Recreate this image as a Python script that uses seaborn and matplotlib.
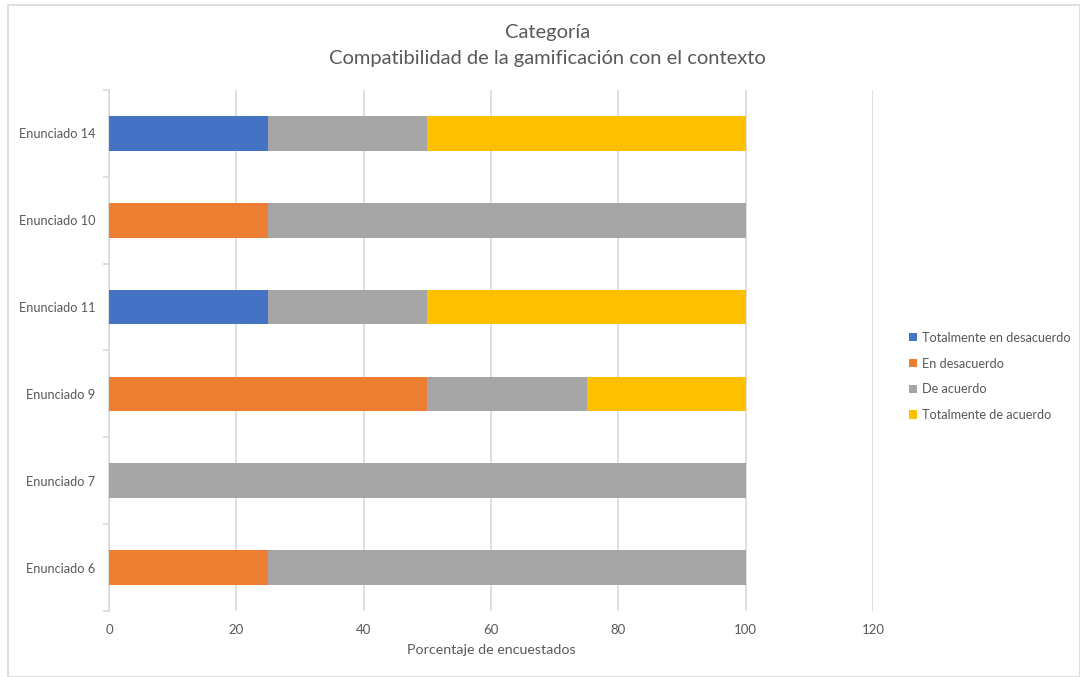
import matplotlib
matplotlib.use("Agg")
import matplotlib.pyplot as plt
import seaborn as sns
import pandas as pd
import numpy as np
from matplotlib.patches import Rectangle

# Statements, listed top to bottom
categories = ["Enunciado 14", "Enunciado 10", "Enunciado 11", "Enunciado 9", "Enunciado 7", "Enunciado 6"]

# Percentage of respondents per answer
totalmente_desacuerdo = [25, 0, 25, 0, 0, 0]
en_desacuerdo = [0, 25, 0, 50, 0, 25]
de_acuerdo = [25, 75, 25, 25, 100, 75]
totalmente_acuerdo = [50, 0, 50, 25, 0, 0]

series_names = ["Totalmente en desacuerdo", "En desacuerdo", "De acuerdo", "Totalmente de acuerdo"]
series_values = [totalmente_desacuerdo, en_desacuerdo, de_acuerdo, totalmente_acuerdo]
colors = ["#4472C4", "#ED7D31", "#A5A5A5", "#FFC000"]

x_ticks = [0, 20, 40, 60, 80, 100, 120]

sns.set_theme(style="white")
plt.rcParams["font.family"] = ["Lato", "DejaVu Sans"]
text_color = "#595959"

fig = plt.figure(figsize=(10.8, 6.77), dpi=100)
ax = fig.add_axes([109 / 1080, 1 - 611 / 677, (873 - 109) / 1080, (611 - 90) / 677])

# Stacked bars: draw cumulative totals from the last series back to the first
cum = np.cumsum(np.array(series_values), axis=0)
for i in range(len(series_names) - 1, -1, -1):
    df = pd.DataFrame({"Enunciado": categories, "valor": cum[i]})
    sns.barplot(data=df, x="valor", y="Enunciado", orient="h", color=colors[i],
                saturation=1, width=0.4, ax=ax, zorder=3, linewidth=0)

ax.set_xlim(0, 120)
ax.set_ylim(len(categories) - 0.5, -0.5)
ax.set_xticks(x_ticks)
ax.set_xticklabels([str(t) for t in x_ticks])
ax.grid(axis="x", color="#D9D9D9", linewidth=1.2, zorder=0)
ax.grid(axis="y", visible=False)

for side in ["top", "right", "bottom"]:
    ax.spines[side].set_visible(False)
ax.spines["left"].set_color("#D9D9D9")
ax.spines["left"].set_linewidth(1.2)

# Category ticks sit between bands
ax.set_yticks(np.arange(len(categories)))
ax.set_yticklabels(categories)
ax.set_yticks(np.arange(-0.5, len(categories), 1), minor=True)
ax.tick_params(axis="y", which="major", length=0, pad=10, labelsize=9.2, labelcolor=text_color)
ax.tick_params(axis="y", which="minor", length=4, width=1.2, color="#D9D9D9", left=True)
ax.tick_params(axis="x", length=0, pad=9, labelsize=9.5, labelcolor=text_color)

ax.set_xlabel("Porcentaje de encuestados", fontsize=10.3, color=text_color, labelpad=6)
ax.set_ylabel("")

fig.text(0.507, 0.952, "Categoría", ha="center", va="center", fontsize=14.5, color=text_color)
fig.text(0.507, 0.914, "Compatibilidad de la gamificación con el contexto", ha="center",
         va="center", fontsize=14.5, color=text_color)

# Legend
handles = [Rectangle((0, 0), 1, 1, facecolor=c, edgecolor="none") for c in colors]
fig.legend(handles, series_names, loc="center left", bbox_to_anchor=(0.831, 0.444),
           frameon=False, fontsize=9.2, labelcolor=text_color, handlelength=0.65,
           handleheight=0.65, handletextpad=0.4, labelspacing=1.08)

# Chart area border
fig.patches.append(Rectangle((8 / 1080, 0), 1 - 8 / 1080 - 0.5 / 1080, 1 - 5 / 677,
                             transform=fig.transFigure, fill=False,
                             edgecolor="#D9D9D9", linewidth=1.2))

fig.savefig("out.png", dpi=100, facecolor="white")
